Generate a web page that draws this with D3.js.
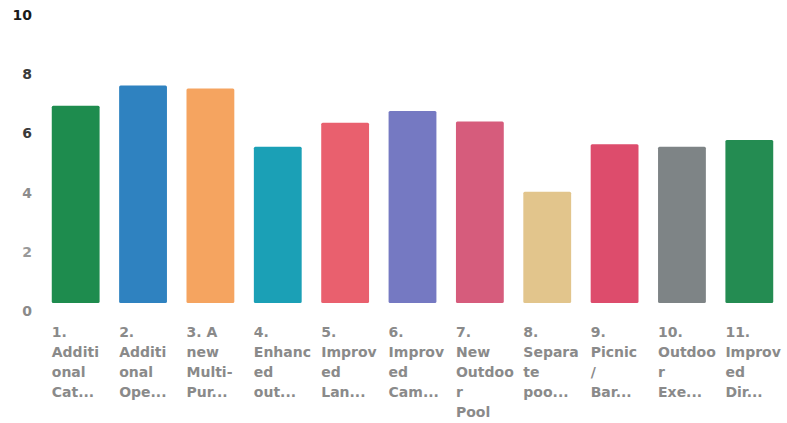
<!DOCTYPE html>
<html>
<head>
<meta charset="utf-8">
<script src="https://cdn.jsdelivr.net/npm/d3@7"></script>
<style>
  body { margin: 0; background: #fff; }
  svg { display: block; font-family: "DejaVu Sans", sans-serif; }
</style>
</head>
<body>
<div id="chart"></div>
<script>
// category labels, already wrapped into lines as in the picture
const categories = [
  ["1.", "Additi", "onal", "Cat..."],
  ["2.", "Additi", "onal", "Ope..."],
  ["3. A", "new", "Multi-", "Pur..."],
  ["4.", "Enhanc", "ed", "out..."],
  ["5.", "Improv", "ed", "Lan..."],
  ["6.", "Improv", "ed", "Cam..."],
  ["7.", "New", "Outdoo", "r", "Pool"],
  ["8.", "Separa", "te", "poo..."],
  ["9.", "Picnic", "/", "Bar..."],
  ["10.", "Outdoo", "r", "Exe..."],
  ["11.", "Improv", "ed", "Dir..."]
];
const values = [6.66, 7.35, 7.25, 5.28, 6.09, 6.49, 6.13, 3.76, 5.36, 5.28, 5.51];
const barColors = ["#1e8c4e", "#2f82c0", "#f5a460", "#1ba0b6", "#e9606e", "#7579c2",
                   "#d65c7c", "#e2c58c", "#dd4c6c", "#7e8486", "#248c52"];
const yTicks = [0, 2, 4, 6, 8, 10];
const tickColors = ["#8a8a8a", "#999", "#8c8c8c", "#3a3a3a", "#3a3a3a", "#1a1a1a"];

const width = 787, height = 423;

const svg = d3.select("#chart").append("svg")
    .attr("width", width)
    .attr("height", height);

const x = d3.scaleBand()
    .domain(d3.range(values.length))
    .range([42, 783])
    .paddingInner(0.29)
    .paddingOuter(0.145);

const y = d3.scaleLinear()
    .domain([0, 10])
    .range([303, 7]);

// y tick labels (no axis line or grid in the original)
svg.append("g")
  .selectAll("text")
  .data(yTicks)
  .join("text")
    .attr("x", 32)
    .attr("y", d => y(d) + 8)
    .attr("dy", "0.35em")
    .attr("text-anchor", "end")
    .attr("font-size", 14)
    .attr("font-weight", 700)
    .attr("fill", (d, i) => tickColors[i])
    .text(d => d);

// bars
svg.append("g")
  .selectAll("rect")
  .data(values)
  .join("rect")
    .attr("x", (d, i) => x(i))
    .attr("y", d => y(d))
    .attr("width", x.bandwidth())
    .attr("height", d => y(0) - y(d))
    .attr("rx", 1.5)
    .attr("fill", (d, i) => barColors[i]);

// category labels, left aligned under each bar
const lab = svg.append("g")
  .selectAll("text")
  .data(categories)
  .join("text")
    .attr("x", (d, i) => x(i))
    .attr("y", 332)
    .attr("font-size", 14)
    .attr("font-weight", 700)
    .attr("fill", "#8a8a8a");

lab.selectAll("tspan")
  .data(d => d)
  .join("tspan")
    .attr("x", function () { return this.parentNode.getAttribute("x"); })
    .attr("dy", (d, i) => i === 0 ? "0.35em" : 20)
    .text(d => d);
</script>
</body>
</html>
